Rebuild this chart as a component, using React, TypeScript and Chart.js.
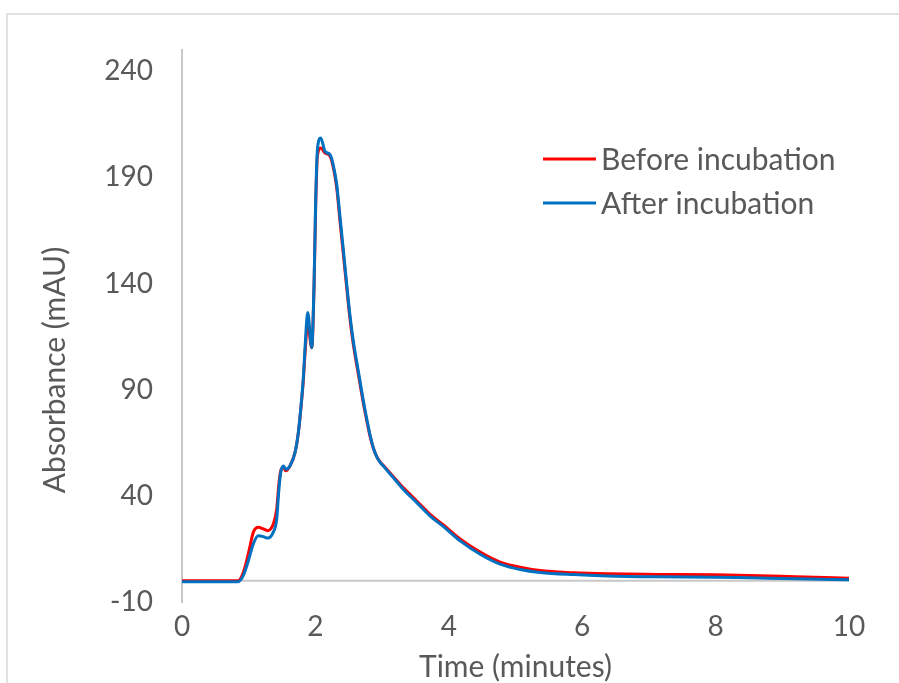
import React, { useEffect, useRef } from "react";
import { Chart, registerables } from "chart.js";

Chart.register(...registerables);

// ---- data ----
const TIME_MIN = [
  0, 0.5, 0.84, 0.92, 1.0, 1.07, 1.145, 1.22, 1.285, 1.37, 1.42, 1.45, 1.48, 1.52, 1.555,
  1.62, 1.695, 1.745, 1.795, 1.82, 1.845, 1.885, 1.945, 1.98, 2.005, 2.03, 2.08, 2.145,
  2.22, 2.27, 2.32, 2.37, 2.42, 2.47, 2.52, 2.57, 2.62, 2.67, 2.72, 2.77, 2.82, 2.87,
  2.92, 2.97, 3.02, 3.17, 3.32, 3.52, 3.72, 3.92, 4.17, 4.47, 4.77, 5.07, 5.37, 5.87,
  6.37, 7.1, 8.0, 8.5, 9.2, 10,
];
const BEFORE_MAU = [
  0, 0, 0, 4, 13.5, 22.9, 25.2, 24.4, 23.6, 26.8, 33.8, 44.8, 51.8, 53.4, 51.8,
  54.2, 60.5, 69.9, 85.5, 94.9, 107.5, 121, 109.8, 138.8, 178, 200, 203.8, 201.5,
  200, 194.5, 185, 169, 153.5, 138, 123, 111, 101.5, 92.5, 83.5, 75.5, 68, 62.3,
  58.5, 56, 54.3, 49, 43.8, 37.6, 31.3, 26.3, 19.7, 13.5, 8.8, 6.4, 4.8, 3.8,
  3.3, 3.0, 2.8, 2.5, 1.9, 1.2,
];
const AFTER_MAU = [
  -0.5, -0.5, -0.5, 2.5, 10, 17.5, 21.2, 20.8, 20.1, 23, 29, 42, 51, 54, 52.5,
  54.2, 60.5, 70, 86, 96, 110, 126.3, 109.8, 140, 180, 203, 208.5, 202.2,
  200.7, 195.5, 186.5, 171, 155.5, 139.5, 124.5, 112.5, 103, 93.8, 84.5, 76.2, 68.5, 62.5,
  58.4, 55.8, 54, 48.5, 43, 36.8, 30.5, 25.5, 18.8, 12.5, 7.8, 5.3, 3.9, 2.9,
  2.3, 1.9, 1.7, 1.4, 1.0, 0.5,
];
const SERIES_NAMES = ["Before incubation", "After incubation"];
const SERIES_COLORS = ["#ff0000", "#0070c0"];
const X_TICKS = [0, 2, 4, 6, 8, 10];
const Y_TICKS = [-10, 40, 90, 140, 190, 240];
const X_TITLE = "Time (minutes)";
const Y_TITLE = "Absorbance (mAU)";

const FONT = "Lato, 'Open Sans', sans-serif";
const TEXT_COLOR = "#595959";
const AXIS_COLOR = "#c8c8c8";

const decorPlugin = {
  id: "decor",
  beforeDraw(chart: any) {
    const ctx = chart.ctx;
    ctx.save();
    ctx.fillStyle = "#ffffff";
    ctx.fillRect(0, 0, chart.width, chart.height);
    ctx.strokeStyle = "#d9d9d9";
    ctx.lineWidth = 1.5;
    ctx.strokeRect(7, 14, chart.width + 40, chart.height + 40);
    ctx.restore();
  },
  beforeDatasetsDraw(chart: any) {
    const { ctx, chartArea, scales } = chart;
    const y0 = scales.y.getPixelForValue(0);
    ctx.save();
    ctx.strokeStyle = AXIS_COLOR;
    ctx.lineWidth = 2;
    ctx.beginPath();
    ctx.moveTo(chartArea.left, y0);
    ctx.lineTo(chartArea.right, y0);
    ctx.stroke();
    // y axis title
    ctx.fillStyle = TEXT_COLOR;
    ctx.font = `30px ${FONT}`;
    ctx.translate(55, 370);
    ctx.rotate(-Math.PI / 2);
    ctx.textAlign = "center";
    ctx.textBaseline = "middle";
    ctx.fillText(Y_TITLE, 0, 0);
    ctx.restore();
  },
  afterDraw(chart: any) {
    const ctx = chart.ctx;
    ctx.save();
    ctx.font = `30px ${FONT}`;
    ctx.textAlign = "left";
    ctx.textBaseline = "middle";
    SERIES_NAMES.forEach((name, i) => {
      const y = 159 + i * 44;
      ctx.strokeStyle = SERIES_COLORS[i];
      ctx.lineWidth = 3;
      ctx.beginPath();
      ctx.moveTo(543, y);
      ctx.lineTo(596, y);
      ctx.stroke();
      ctx.fillStyle = TEXT_COLOR;
      ctx.fillText(name, 601, y + 1);
    });
    ctx.restore();
  },
};

export default function App() {
  const ref = useRef<HTMLCanvasElement | null>(null);

  useEffect(() => {
    const canvas = ref.current;
    if (!canvas) return;
    const series = [BEFORE_MAU, AFTER_MAU];
    const chart = new Chart(canvas, {
      type: "line",
      data: {
        datasets: series.map((vals, i) => ({
          label: SERIES_NAMES[i],
          data: TIME_MIN.map((t, j) => ({ x: t, y: vals[j] })),
          borderColor: SERIES_COLORS[i],
          backgroundColor: SERIES_COLORS[i],
          borderWidth: 3,
          pointRadius: 0,
          fill: false,
          cubicInterpolationMode: "monotone" as const,
          order: i === 0 ? 1 : 0,
        })),
      },
      options: {
        animation: false,
        responsive: false,
        devicePixelRatio: 1,
        layout: { padding: { left: 0, top: 50, right: 50, bottom: 0 } },
        plugins: {
          legend: { display: false },
          tooltip: { enabled: false },
        },
        scales: {
          x: {
            type: "linear",
            min: 0,
            max: 10,
            afterBuildTicks: (s: any) => {
              s.ticks = X_TICKS.map((v) => ({ value: v }));
            },
            afterFit: (s: any) => {
              s.height = 81;
            },
            grid: { display: false, drawTicks: false },
            border: { display: false },
            ticks: {
              color: TEXT_COLOR,
              font: { family: FONT, size: 28 },
              padding: 8,
              maxRotation: 0,
            },
            title: {
              display: true,
              text: X_TITLE,
              color: TEXT_COLOR,
              font: { family: FONT, size: 30, lineHeight: 1 },
              padding: { top: 0, bottom: 1 },
            },
          },
          y: {
            type: "linear",
            min: -10,
            max: 250,
            afterBuildTicks: (s: any) => {
              s.ticks = Y_TICKS.map((v) => ({ value: v }));
            },
            afterFit: (s: any) => {
              s.width = 182;
            },
            grid: { display: false, drawTicks: false },
            border: { display: true, color: AXIS_COLOR, width: 2 },
            ticks: {
              color: TEXT_COLOR,
              font: { family: FONT, size: 28 },
              padding: 29,
            },
          },
        },
      },
      plugins: [decorPlugin],
    });
    return () => chart.destroy();
  }, []);

  return (
    <div style={{ position: "absolute", left: 0, top: 0, width: 899, height: 683 }}>
      <canvas ref={ref} width={899} height={683} style={{ width: 899, height: 683, display: "block" }} />
    </div>
  );
}
